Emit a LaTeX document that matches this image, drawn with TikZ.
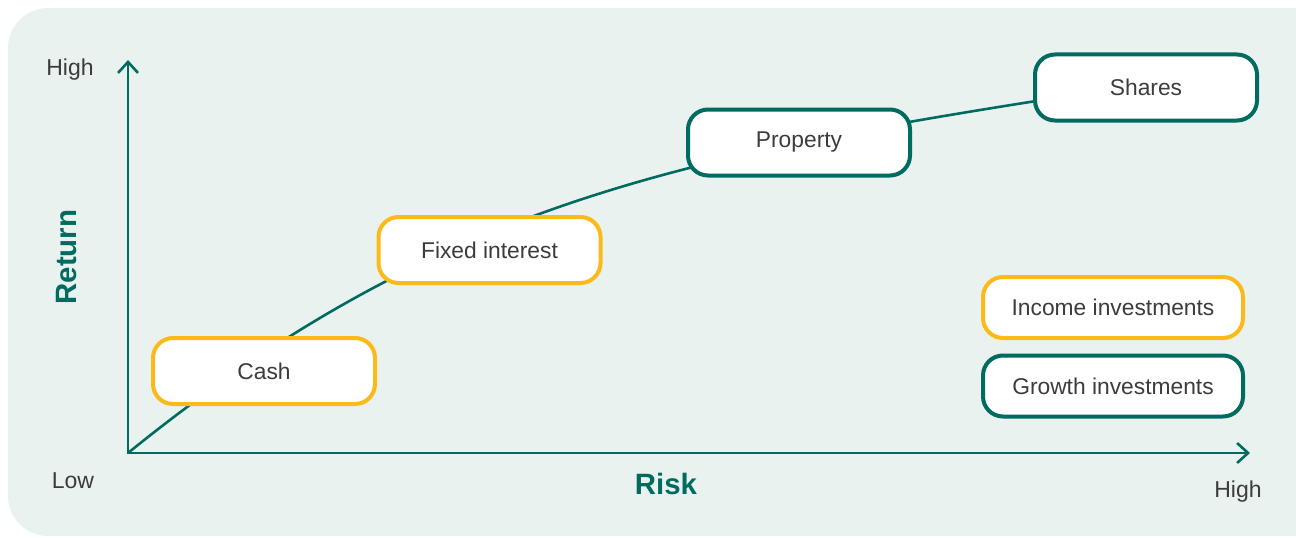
\documentclass[tikz,border=0pt]{standalone}
\usepackage{fontspec}
\setmainfont{Liberation Sans}
\usepackage{tikz}
\usetikzlibrary{arrows.meta,backgrounds}
\definecolor{panelgrey}{HTML}{EAF2F0}
\definecolor{growthgreen}{HTML}{006B5F}
\definecolor{incomegold}{HTML}{FBBA18}
\definecolor{labelgrey}{HTML}{3C3C3C}

\tikzset{
  invbox/.style={draw,line width=2pt,fill=white,rounded corners=10pt,
    minimum width=111pt,minimum height=33pt,text=labelgrey,font=\fontsize{11.4}{13}\selectfont},
  keybox/.style={invbox,minimum width=130pt,minimum height=30.5pt},
  income/.style={draw=incomegold},
  growth/.style={draw=growthgreen},
  axis/.style={growthgreen,line width=1.3pt,{Straight Barb[length=5.5pt,width=10pt]}-{Straight Barb[length=5.5pt,width=10pt]}},
  scale label/.style={text=labelgrey,font=\fontsize{11.5}{13}\selectfont},
  axis title/.style={text=growthgreen,font=\fontsize{14.7}{17}\selectfont\bfseries}
}

\begin{document}
\begin{tikzpicture}[x=0.5pt,y=0.5pt]
  \useasboundingbox (0,0) rectangle (1296,537);

  \coordinate (o) at (128,84);
  \coordinate (ytop) at (128,477);
  \coordinate (xend) at (1250,84);
  \draw[axis] (ytop) -- (o) -- (xend);

  \node[scale label] (yhigh) at (70,467) {High};
  \node[scale label] (low) at (73,56) {Low};
  \node[scale label] (xhigh) at (1238,45) {High};
  \node[axis title] (risk) at (666,53) {Risk};
  \node[axis title,rotate=90] (return) at (67,280) {Return};

  \node[invbox,income] (cash) at (264,166) {Cash};
  \node[invbox,income] (fixed) at (489.5,287) {Fixed interest};
  \node[invbox,growth] (property) at (799,394.5) {Property};
  \node[invbox,growth] (shares) at (1146,449.5) {Shares};

  \node[keybox,income] (incomekey) at (1113,229.5) {Income investments};
  \node[keybox,growth] (growthkey) at (1113,151) {Growth investments};

  \begin{pgfonlayer}{background}
    \fill[panelgrey,rounded corners=20pt] (8,1) rectangle (1330,529);
    \draw[growthgreen,line width=1.3pt] (o) to[out=39,in=189] ([yshift=-7pt]shares.west);
  \end{pgfonlayer}
\end{tikzpicture}
\end{document}
